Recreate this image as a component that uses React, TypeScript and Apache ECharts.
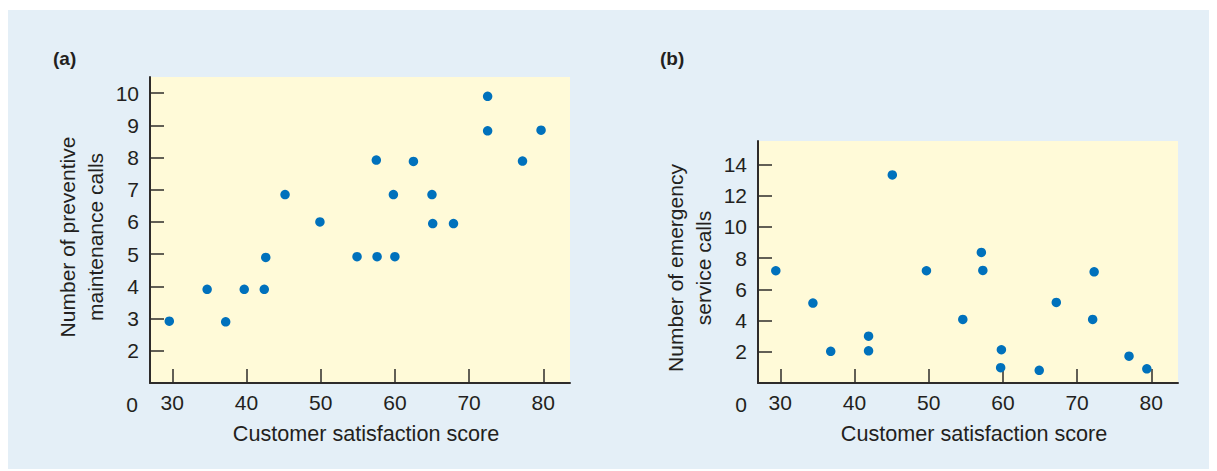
import React, { useEffect, useRef } from "react";
import * as echarts from "echarts";

// Panel (a): customer satisfaction vs. preventive maintenance calls
const satisfactionA = [29.6, 34.7, 37.2, 39.7, 42.4, 42.6, 45.2, 49.9, 54.9, 57.6, 60.0, 57.5, 59.8, 62.5, 65.0, 65.1, 67.9, 72.5, 72.5, 77.2, 79.7];
const preventiveCalls = [2.92, 3.91, 2.9, 3.91, 3.91, 4.9, 6.85, 6.0, 4.92, 4.92, 4.92, 7.92, 6.85, 7.88, 6.85, 5.95, 5.95, 9.9, 8.83, 7.89, 8.85];

// Panel (b): customer satisfaction vs. emergency service calls
const satisfactionB = [29.4, 34.4, 36.8, 41.9, 41.9, 45.1, 49.7, 54.6, 57.1, 57.3, 59.8, 59.7, 64.9, 67.2, 72.1, 72.3, 77.0, 79.4];
const emergencyCalls = [7.19, 5.12, 2.03, 3.0, 2.06, 13.33, 7.19, 4.07, 8.36, 7.21, 2.13, 0.98, 0.81, 5.16, 4.07, 7.12, 1.72, 0.91];

const xTicks = [30, 40, 50, 60, 70, 80];
const yTicksA = [2, 3, 4, 5, 6, 7, 8, 9, 10];
const yTicksB = [2, 4, 6, 8, 10, 12, 14];

const FONT = "'Liberation Sans', Arial, Helvetica, sans-serif";
const TEXT = "#231f20";
const AXIS = "#2e2b2a";
const DOT = "#0071bc";
const CREAM = "#fffad8";
const BG = "#e4eff7";

export default function App() {
  const ref = useRef<HTMLDivElement>(null);
  useEffect(() => {
    if (!ref.current) return;
    const chart = echarts.init(ref.current, null, { renderer: "svg" });

    const xAxisCommon = (gridIndex: number) => ({
      type: "value",
      gridIndex,
      min: 27,
      max: 83.6,
      axisLine: { show: true, onZero: false, lineStyle: { color: AXIS, width: 2 } },
      axisTick: { show: true, inside: true, length: 14, customValues: xTicks, lineStyle: { color: AXIS, width: 1.5 } },
      axisLabel: { customValues: xTicks, margin: 9, fontSize: 21, color: TEXT, fontFamily: FONT },
      splitLine: { show: false },
    });
    const yAxisCommon = (gridIndex: number, min: number, max: number, ticks: number[]) => ({
      type: "value",
      gridIndex,
      min,
      max,
      axisLine: { show: true, onZero: false, lineStyle: { color: AXIS, width: 2 } },
      axisTick: { show: true, inside: true, length: 14, customValues: ticks, lineStyle: { color: AXIS, width: 1.5 } },
      axisLabel: { customValues: ticks, margin: 11, fontSize: 21, color: TEXT, fontFamily: FONT },
      splitLine: { show: false },
    });

    const pairs = (xs: number[], ys: number[]) => xs.map((x, i) => [x, ys[i]]);

    const txt = (text: string, x: number, y: number, extra: any = {}) => ({
      type: "text",
      x,
      y,
      style: {
        text,
        fill: TEXT,
        font: `21px ${FONT}`,
        align: "center",
        verticalAlign: "middle",
        ...extra,
      },
    });

    chart.setOption({
      animation: false,
      backgroundColor: BG,
      grid: [
        { left: 142, top: 67, width: 420, height: 306, show: true, backgroundColor: CREAM, borderWidth: 0 },
        { left: 750, top: 131, width: 420, height: 242, show: true, backgroundColor: CREAM, borderWidth: 0 },
      ],
      xAxis: [xAxisCommon(0), xAxisCommon(1)],
      yAxis: [yAxisCommon(0, 1, 10.5, yTicksA), yAxisCommon(1, 0, 15.5, yTicksB)],
      series: [
        {
          type: "scatter",
          xAxisIndex: 0,
          yAxisIndex: 0,
          data: pairs(satisfactionA, preventiveCalls),
          symbolSize: 9.5,
          itemStyle: { color: DOT, opacity: 1 },
        },
        {
          type: "scatter",
          xAxisIndex: 1,
          yAxisIndex: 1,
          data: pairs(satisfactionB, emergencyCalls),
          symbolSize: 9.5,
          itemStyle: { color: DOT, opacity: 1 },
        },
      ],
      graphic: [
        txt("(a)", 45, 39, { font: `bold 19px ${FONT}`, align: "left", verticalAlign: "top" }),
        txt("(b)", 652, 39, { font: `bold 19px ${FONT}`, align: "left", verticalAlign: "top" }),
        txt("0", 124, 394, { font: `21px ${FONT}` }),
        txt("0", 733, 394, { font: `21px ${FONT}` }),
        {
          ...txt("Number of preventive\nmaintenance calls", 73, 227, { lineHeight: 28 }),
          rotation: Math.PI / 2,
        },
        {
          ...txt("Number of emergency\nservice calls", 681, 258, { lineHeight: 28 }),
          rotation: Math.PI / 2,
        },
        txt("Customer satisfaction score", 358, 423, { font: `21.6px ${FONT}` }),
        txt("Customer satisfaction score", 966, 423, { font: `21.6px ${FONT}` }),
      ],
    });
    return () => chart.dispose();
  }, []);

  return (
    <div
      ref={ref}
      style={{ width: 1209, height: 461, position: "relative", top: 2 }}
    />
  );
}
